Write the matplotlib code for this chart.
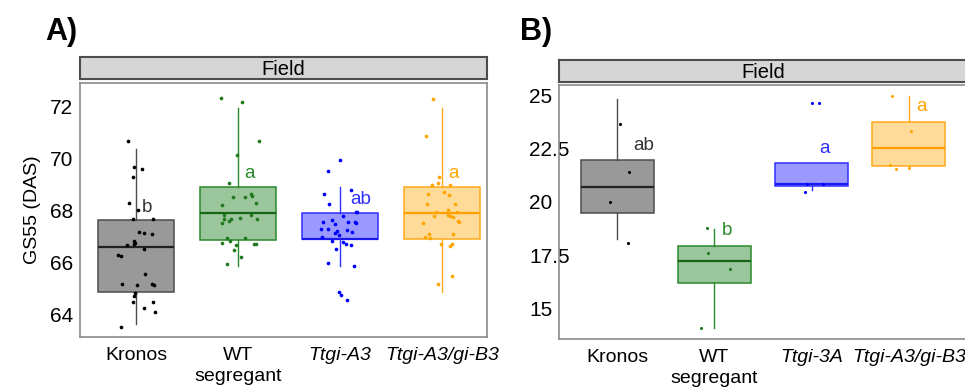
import numpy as np
import matplotlib
matplotlib.use("Agg")
import matplotlib.pyplot as plt

# ---- data ----
labels_a = ["Kronos", "WT\nsegregant", "Ttgi-A3", "Ttgi-A3/gi-B3"]
labels_b = ["Kronos", "WT\nsegregant", "Ttgi-3A", "Ttgi-A3/gi-B3"]
italic = [False, False, True, True]

line_cols = ["#4d4d4d", "#2a8a2a", "#2f2fff", "#ffab1a"]
fill_cols = ["#999999", "#9bc59b", "#9999ff", "#ffdb99"]
pt_cols = ["#000000", "#1f7a1f", "#0000ff", "#ffa500"]
median_cols = ["#222222", "#176617", "#1a1aee", "#ffa000"]

# panel A box stats: q1, median, q3, whisker low, whisker high
a_q1 = [64.88, 66.90, 66.92, 66.92]
a_med = [66.60, 67.92, 66.92, 67.92]
a_q3 = [67.65, 68.92, 67.92, 68.92]
a_lo = [63.65, 65.88, 65.88, 64.88]
a_hi = [70.38, 71.96, 68.92, 71.96]

# panel A points (values) and horizontal jitter (category units)
a_kronos = [70.67, 69.67, 69.63, 69.32, 68.30, 68.04, 67.69, 67.69, 67.20, 67.14,
            67.10, 66.86, 66.78, 66.68, 66.72, 66.55, 66.29, 66.26, 65.58, 65.20,
            65.14, 65.18, 65.14, 64.83, 64.73, 64.51, 64.49, 64.26, 64.10, 63.55]
a_kronos_jit = [-0.08, -0.02, 0.06, -0.03, -0.07, 0.02, -0.03, 0.17, 0.03, 0.08,
                0.16, -0.02, -0.01, -0.09, -0.02, 0.08, -0.18, -0.15, 0.09, -0.14,
                0.01, 0.16, 0.18, -0.01, -0.02, -0.03, 0.17, 0.08, 0.19, -0.15]
a_wt = [72.36, 72.20, 70.70, 70.15, 69.07, 68.55, 68.55, 68.65, 68.56, 68.32,
        68.23, 67.86, 67.86, 67.72, 67.68, 67.67, 67.60, 67.68, 67.53, 66.97,
        66.97, 66.85, 66.77, 66.67, 66.51, 66.73, 66.73, 66.22, 65.96]
a_wt_jit = [-0.17, 0.04, 0.20, -0.01, -0.09, -0.05, 0.07, 0.13, 0.14, 0.18,
            -0.16, -0.14, 0.13, 0.02, -0.14, -0.07, -0.09, 0.19, -0.16, -0.11,
            0.07, -0.08, -0.16, -0.02, -0.04, 0.16, 0.18, 0.03, -0.11]
a_a3 = [69.95, 69.55, 68.65, 68.81, 68.26, 67.95, 67.95, 67.81, 67.65, 67.59,
        67.57, 67.54, 67.57, 67.51, 67.30, 67.30, 67.26, 67.17, 67.22, 67.14,
        67.06, 67.01, 66.85, 66.81, 66.72, 66.67, 66.55, 66.00, 65.90, 64.87,
        64.76, 64.59]
a_a3_jit = [0.00, -0.12, -0.16, 0.11, -0.11, 0.16, 0.17, 0.03, -0.08, 0.08,
            0.15, 0.16, -0.17, -0.05, -0.19, -0.12, 0.07, 0.12, -0.03, -0.05,
            -0.01, -0.18, -0.08, 0.03, 0.06, 0.11, -0.04, -0.12, 0.14, -0.01,
            0.01, 0.07]
a_b3 = [72.30, 70.88, 69.31, 69.07, 69.01, 69.00, 68.74, 68.65, 68.60, 68.27,
        68.26, 68.05, 67.95, 67.96, 67.82, 67.83, 67.81, 67.76, 67.62, 67.58,
        67.53, 67.12, 67.10, 67.01, 66.97, 66.73, 66.64, 66.72, 65.50, 65.17]
a_b3_jit = [-0.09, -0.16, -0.03, -0.04, -0.10, 0.08, 0.02, -0.14, 0.07, 0.13,
            -0.15, 0.06, -0.06, 0.15, -0.08, 0.06, 0.08, 0.11, 0.16, 0.17,
            -0.19, -0.13, 0.11, -0.17, -0.12, -0.01, 0.08, 0.10, 0.10, -0.04]

# panel B box stats
b_q1 = [19.50, 16.20, 20.75, 21.66]
b_med = [20.70, 17.25, 20.83, 22.53]
b_q3 = [21.95, 17.92, 21.80, 23.73]
b_lo = [18.25, 14.11, 20.55, 21.60]
b_hi = [24.81, 18.75, 21.80, 24.95]

b_kronos = [23.63, 21.39, 19.98, 18.08]
b_kronos_jit = [0.03, 0.12, -0.08, 0.11]
b_wt = [18.78, 17.63, 16.88, 14.11]
b_wt_jit = [-0.08, -0.07, 0.16, -0.14]
b_a3 = [24.64, 24.64, 20.84, 20.84, 20.48]
b_a3_jit = [0.00, 0.08, -0.05, 0.12, -0.07]
b_b3 = [24.95, 23.34, 21.72, 21.56, 21.60]
b_b3_jit = [-0.17, 0.02, -0.19, -0.13, 0.00]

# significance letters
a_letters = ["b", "a", "ab", "a"]
a_letter_y = [68.15, 69.45, 68.42, 69.45]
b_letters = ["ab", "b", "a", "a"]
b_letter_y = [22.65, 18.67, 22.50, 24.45]
letter_cols = ["#333333", "#2a8a2a", "#2f2fff", "#ffa500"]

REG = ["Liberation Sans", "DejaVu Sans"]

W, H = 965, 388
fig = plt.figure(figsize=(W / 100, H / 100), dpi=100)


def box_panel(ax, q1, med, q3, lo, hi, pts, jits, ms):
    pos = np.arange(1, 5)
    stats = [dict(q1=q1[i], med=med[i], q3=q3[i], whislo=lo[i], whishi=hi[i])
             for i in range(4)]
    parts = ax.bxp(stats, positions=pos, widths=0.75, patch_artist=True,
                   showfliers=False, showcaps=False)
    for i in range(4):
        parts["boxes"][i].set(facecolor=fill_cols[i], edgecolor=line_cols[i], linewidth=1.1)
        parts["medians"][i].set(color=median_cols[i], linewidth=1.6)
        for w in parts["whiskers"][2 * i:2 * i + 2]:
            w.set(color=line_cols[i], linewidth=1.0)
    for i in range(4):
        ax.scatter(pos[i] + np.array(jits[i]), pts[i], s=ms, color=pt_cols[i],
                   zorder=5, linewidths=0)
    ax.set_xlim(0.4, 4.6)
    ax.set_xticks(pos)
    for s in ax.spines.values():
        s.set_color("#8a8a8a")
        s.set_linewidth(1.2)
    ax.tick_params(length=0)


def strip(rect):
    sax = fig.add_axes(rect)
    sax.set_facecolor("#d6d6d6")
    sax.set_xticks([])
    sax.set_yticks([])
    for s in sax.spines.values():
        s.set_color("#4d4d4d")
        s.set_linewidth(1.5)
    sax.text(0.5, 0.45, "Field", ha="center", va="center", fontsize=14.5,
             family=REG, transform=sax.transAxes)


# ---- panel A ----
axA = fig.add_axes([80 / W, 1 - 337 / H, 407 / W, 254 / H])
box_panel(axA, a_q1, a_med, a_q3, a_lo, a_hi,
          [a_kronos, a_wt, a_a3, a_b3], [a_kronos_jit, a_wt_jit, a_a3_jit, a_b3_jit], 7)
axA.set_xlim(0.45, 4.44)
axA.set_ylim(63.15, 72.92)
axA.set_yticks([64, 66, 68, 70, 72])
axA.set_yticklabels(["64", "66", "68", "70", "72"], family=REG, fontsize=15)
axA.tick_params(axis="y", pad=5)
axA.set_xticklabels(labels_a, fontsize=14, family=REG, linespacing=1.3)
for lab, it in zip(axA.get_xticklabels(), italic):
    if it:
        lab.set_style("italic")
axA.tick_params(axis="x", pad=7)
axA.set_ylabel("GS55 (DAS)", fontsize=14, family=REG, labelpad=6)
for i in range(4):
    off = 0.2 if a_letters[i] == "ab" else 0.11
    axA.text(i + 1 + off, a_letter_y[i], a_letters[i], color=letter_cols[i],
             fontsize=13.5, family=REG, ha="center", va="center", zorder=6)
strip([80 / W, 1 - 79 / H, 407 / W, 22 / H])
fig.text(45 / W, 1 - 40 / H, "A)", fontsize=22, fontweight="bold", family=REG)

# ---- panel B ----
axB = fig.add_axes([559 / W, 1 - 339 / H, 408 / W, 254 / H])
box_panel(axB, b_q1, b_med, b_q3, b_lo, b_hi,
          [b_kronos, b_wt, b_a3, b_b3], [b_kronos_jit, b_wt_jit, b_a3_jit, b_b3_jit], 5)
axB.set_ylim(13.59, 25.47)
axB.set_yticks([15, 17.5, 20, 22.5, 25])
axB.set_yticklabels(["15", "17.5", "20", "22.5", "25"], family=REG, fontsize=15)
axB.tick_params(axis="y", pad=21.6)
for lab in axB.get_yticklabels():
    lab.set_horizontalalignment("left")
axB.set_xticklabels(labels_b, fontsize=14, family=REG, linespacing=1.3)
for lab, it in zip(axB.get_xticklabels(), italic):
    if it:
        lab.set_style("italic")
axB.tick_params(axis="x", pad=7)
for i in range(4):
    off = 0.27 if b_letters[i] == "ab" else 0.13
    axB.text(i + 1 + off, b_letter_y[i], b_letters[i], color=letter_cols[i],
             fontsize=13.5, family=REG, ha="center", va="center", zorder=6)
strip([559 / W, 1 - 82 / H, 408 / W, 22 / H])
fig.text(520 / W, 1 - 40 / H, "B)", fontsize=22, fontweight="bold", family=REG)

fig.savefig("out.png", dpi=100)
